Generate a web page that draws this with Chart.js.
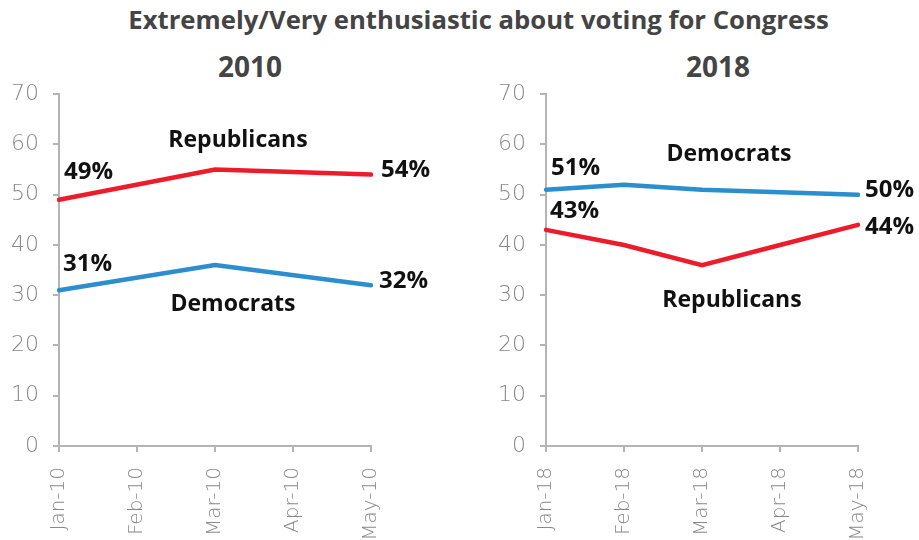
<!DOCTYPE html>
<html>
<head>
<meta charset="utf-8">
<script src="https://cdn.jsdelivr.net/npm/chart.js@4"></script>
<style>
  body { margin: 0; width: 919px; height: 540px; background: #fff; position: relative; overflow: hidden; font-family: "Open Sans", sans-serif; }
  .title { position: absolute; left: 19px; width: 919px; top: 2px; text-align: center; font-weight: 700; font-size: 25.7px; color: #444; }
  .sub { position: absolute; top: 47px; width: 200px; text-align: center; font-weight: 700; font-size: 28px; color: #444; }
  .box { position: absolute; top: 67px; height: 473px; }
</style>
</head>
<body>
<div class="title">Extremely/Very enthusiastic about voting for Congress</div>
<div class="sub" style="left:150px">2010</div>
<div class="sub" style="left:618px">2018</div>
<div class="box" style="left:0;width:460px"><canvas id="chart2010"></canvas></div>
<div class="box" style="left:460px;width:459px"><canvas id="chart2018"></canvas></div>
<script>
// Data
const months2010 = ['Jan-10', 'Feb-10', 'Mar-10', 'Apr-10', 'May-10'];
const rep2010 = [49, null, 55, null, 54];
const dem2010 = [31, null, 36, null, 32];

const months2018 = ['Jan-18', 'Feb-18', 'Mar-18', 'Apr-18', 'May-18'];
const dem2018 = [51, 52, 51, 50.5, 50];
const rep2018 = [43, 40, 36, 40, 44];

const yTicks = [0, 10, 20, 30, 40, 50, 60, 70];

const RED = '#ec1c2a';
const BLUE = '#2a8ecf';
const AXIS = '#b4b4b6';

// Draw the value and series labels next to points
const labelPlugin = {
    id: 'pointLabels',
    afterDatasetsDraw(chart, args, opts) {
        const ctx = chart.ctx;
        ctx.save();
        ctx.fillStyle = '#111';
        ctx.textBaseline = 'middle';
        opts.items.forEach(item => {
            const pt = chart.getDatasetMeta(item.ds).data[item.i];
            ctx.font = 'bold ' + (item.size || 24) + 'px "Open Sans"';
            ctx.textAlign = item.align || 'left';
            ctx.fillText(item.text, pt.x + item.dx, pt.y + item.dy);
        });
        ctx.restore();
    }
};

function makeChart(id, labels, sets, items, padLeft, padRight) {
    const ctx = document.getElementById(id).getContext('2d');
    return new Chart(ctx, {
        type: 'line',
        data: {
            labels: labels,
            datasets: sets.map(s => ({
                label: s.label,
                data: s.data,
                borderColor: s.color,
                borderWidth: 4.5,
                pointRadius: 0,
                tension: 0,
                spanGaps: true,
                borderCapStyle: 'round'
            }))
        },
        options: {
            responsive: true,
            maintainAspectRatio: false,
            animation: false,
            layout: { padding: { top: 1, left: padLeft, right: padRight, bottom: 0 } },
            plugins: {
                legend: { display: false },
                tooltip: { enabled: false },
                pointLabels: { items: items }
            },
            scales: {
                x: {
                    offset: false,
                    afterFit(scale) { scale.height = 94; },
                    grid: { display: true, drawOnChartArea: false, drawTicks: true, tickLength: 6, color: AXIS, lineWidth: 2 },
                    border: { display: true, color: AXIS, width: 2 },
                    ticks: { color: '#888', font: { family: 'DejaVu Sans', size: 20, weight: 200 }, minRotation: 90, maxRotation: 90, padding: 15 }
                },
                y: {
                    min: 0,
                    max: 70,
                    afterFit(scale) { scale.width = 59; },
                    afterBuildTicks(scale) { scale.ticks = yTicks.map(v => ({ value: v })); },
                    grid: { display: true, drawOnChartArea: false, drawTicks: true, tickLength: 6, color: AXIS, lineWidth: 2 },
                    border: { display: true, color: AXIS, width: 2 },
                    ticks: { color: '#888', font: { family: 'DejaVu Sans', size: 22, weight: 200 }, padding: 14 }
                }
            }
        },
        plugins: [labelPlugin]
    });
}

makeChart('chart2010', months2010,
    [{ label: 'Republicans', data: rep2010, color: RED }, { label: 'Democrats', data: dem2010, color: BLUE }],
    [
        { ds: 0, i: 0, text: '49%', dx: 5, dy: -28 },
        { ds: 0, i: 4, text: '54%', dx: 10, dy: -4 },
        { ds: 1, i: 0, text: '31%', dx: 4, dy: -26 },
        { ds: 1, i: 4, text: '32%', dx: 8, dy: -4 },
        { ds: 0, i: 2, text: 'Republicans', dx: 23, dy: -29, align: 'center', size: 23 },
        { ds: 1, i: 2, text: 'Democrats', dx: 18, dy: 39, align: 'center', size: 23 }
    ], 0, 89);

makeChart('chart2018', months2018,
    [{ label: 'Democrats', data: dem2018, color: BLUE }, { label: 'Republicans', data: rep2018, color: RED }],
    [
        { ds: 0, i: 0, text: '51%', dx: 5, dy: -22 },
        { ds: 0, i: 4, text: '50%', dx: 7, dy: -5 },
        { ds: 1, i: 0, text: '43%', dx: 4, dy: -19 },
        { ds: 1, i: 4, text: '44%', dx: 7, dy: 2 },
        { ds: 0, i: 2, text: 'Democrats', dx: 27, dy: -35, align: 'center', size: 23 },
        { ds: 1, i: 2, text: 'Republicans', dx: 30, dy: 35, align: 'center', size: 23 }
    ], 27, 61);
</script>
</body>
</html>
